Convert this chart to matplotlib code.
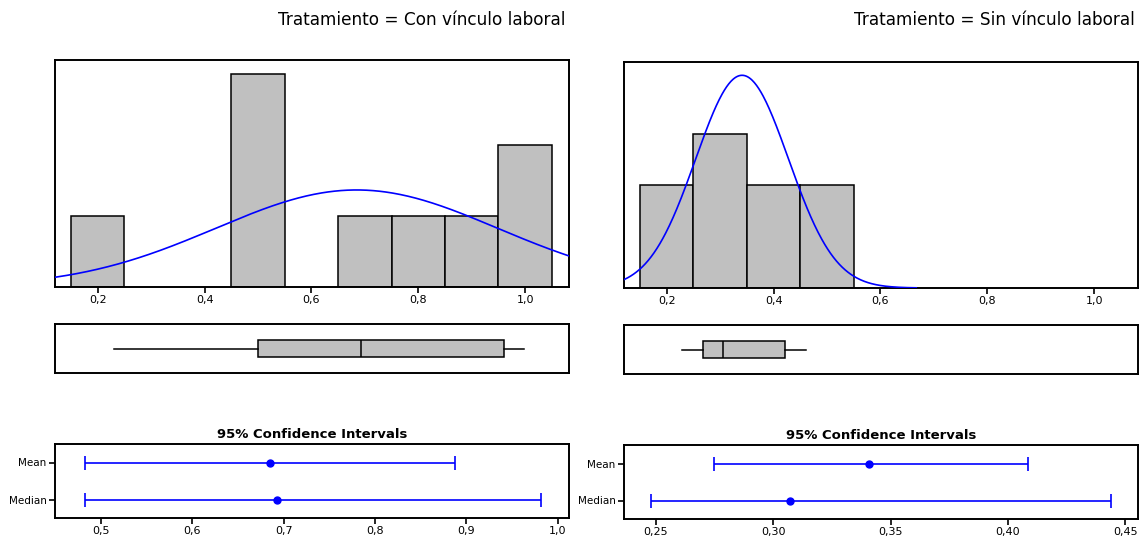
import numpy as np
import matplotlib
matplotlib.use('Agg')
import matplotlib.pyplot as plt

W, H = 1147, 540

titles = ['Tratamiento = Con vínculo laboral', 'Tratamiento = Sin vínculo laboral']

# histogram bins (centres) and counts
con_bins = [0.2, 0.5, 0.7, 0.8, 0.9, 1.0]
con_counts = [1, 3, 1, 1, 1, 2]
sin_bins = [0.2, 0.3, 0.4, 0.5]
sin_counts = [2, 3, 2, 2]
bin_width = 0.1

# fitted normal curve (mean, sd, n) and where it is drawn
con_mean, con_sd, con_n = 0.6846, 0.2633, 9
sin_mean, sin_sd, sin_n = 0.341, 0.0869, 9
con_curve_end = 1.082
sin_curve_end = 0.667

# boxplot five-number summaries
con_box = [0.231, 0.499, 0.692, 0.9605, 0.9986]
sin_box = [0.228, 0.268, 0.306, 0.422, 0.461]

# 95% confidence intervals: (low, estimate, high)
ci_labels = ['Median', 'Mean']
con_ci_mean = [0.483, 0.6846, 0.8877]
con_ci_median = [0.4826, 0.6926, 0.9818]
sin_ci_mean = [0.2748, 0.341, 0.4084]
sin_ci_median = [0.2478, 0.307, 0.444]

hist_ticks = [0.2, 0.4, 0.6, 0.8, 1.0]
con_ci_ticks = [0.5, 0.6, 0.7, 0.8, 0.9, 1.0]
sin_ci_ticks = [0.25, 0.30, 0.35, 0.40, 0.45]

fig = plt.figure(figsize=(W / 100, H / 100), dpi=100)


def rect(x0, x1, y0, y1):
    return [x0 / W, 1 - y1 / H, (x1 - x0) / W, (y1 - y0) / H]


def frame(ax):
    for s in ax.spines.values():
        s.set_linewidth(1.4)
        s.set_color('black')


def comma(v, nd):
    return f'{v:.{nd}f}'.replace('.', ',')


panels = [
    dict(x0=55, x1=569, hy=(60, 287), by=(324, 373), cy=(444, 518),
         bins=con_bins, counts=con_counts, ylim=3.19,
         mean=con_mean, sd=con_sd, n=con_n, cend=con_curve_end,
         box=con_box, ci=[con_ci_median, con_ci_mean],
         cticks=con_ci_ticks, cnd=1, cxlim=(0.4497, 1.0124),
         title=titles[0], tx=565),
    dict(x0=624, x1=1138, hy=(62, 288), by=(325, 374), cy=(445, 519),
         bins=sin_bins, counts=sin_counts, ylim=4.39,
         mean=sin_mean, sd=sin_sd, n=sin_n, cend=sin_curve_end,
         box=sin_box, ci=[sin_ci_median, sin_ci_mean],
         cticks=sin_ci_ticks, cnd=2, cxlim=(0.2365, 0.4554),
         title=titles[1], tx=1135),
]

xlim = (0.12, 1.082)

for p in panels:
    # histogram with normal fit
    ax = fig.add_axes(rect(p['x0'], p['x1'], *p['hy']))
    ax.bar(p['bins'], p['counts'], width=bin_width, color='#c0c0c0',
           edgecolor='black', linewidth=1.1, zorder=2)
    xs = np.linspace(xlim[0], p['cend'], 400)
    ys = p['n'] * bin_width * np.exp(-0.5 * ((xs - p['mean']) / p['sd']) ** 2) / (p['sd'] * np.sqrt(2 * np.pi))
    ax.plot(xs, ys, color='#0000ff', linewidth=1.2, zorder=3)
    ax.set_xlim(*xlim)
    ax.set_ylim(0, p['ylim'])
    ax.set_yticks([])
    ax.set_xticks(hist_ticks)
    ax.set_xticklabels([comma(t, 1) for t in hist_ticks], fontsize=8)
    ax.tick_params(axis='x', length=4, width=1.2, pad=2)
    frame(ax)

    # boxplot
    bx = fig.add_axes(rect(p['x0'], p['x1'], *p['by']))
    b = p['box']
    stats = [dict(whislo=b[0], q1=b[1], med=b[2], q3=b[3], whishi=b[4], fliers=[])]
    bx.bxp(stats, positions=[0.5], widths=0.35, vert=False, patch_artist=True,
           showcaps=False,
           boxprops=dict(facecolor='#c0c0c0', edgecolor='black', linewidth=1.1),
           medianprops=dict(color='black', linewidth=1.1),
           whiskerprops=dict(color='black', linewidth=1.1))
    bx.set_xlim(*xlim)
    bx.set_ylim(0, 1)
    bx.set_xticks([])
    bx.set_yticks([])
    frame(bx)

    # confidence intervals
    cx = fig.add_axes(rect(p['x0'], p['x1'], *p['cy']))
    for i, (lo, est, hi) in enumerate(p['ci']):
        cx.errorbar([est], [i + 1], xerr=[[est - lo], [hi - est]], fmt='o',
                    color='#0000ff', markersize=5, elinewidth=1.2,
                    capsize=5, capthick=1.2)
    cx.set_ylim(0.5, 2.5)
    cx.set_yticks([1, 2])
    cx.set_yticklabels(ci_labels, fontsize=7.5)
    cx.set_xlim(*p['cxlim'])
    cx.set_xticks(p['cticks'])
    cx.set_xticklabels([comma(t, p['cnd']) for t in p['cticks']], fontsize=8)
    cx.tick_params(length=4, width=1.2, pad=2)
    cx.set_title('95% Confidence Intervals', fontsize=9.5, fontweight='bold', pad=4)
    frame(cx)

    fig.text(p['tx'] / W, 1 - 25 / H, p['title'], ha='right', va='baseline',
             fontsize=12.2)

fig.savefig('out.png', dpi=100)
